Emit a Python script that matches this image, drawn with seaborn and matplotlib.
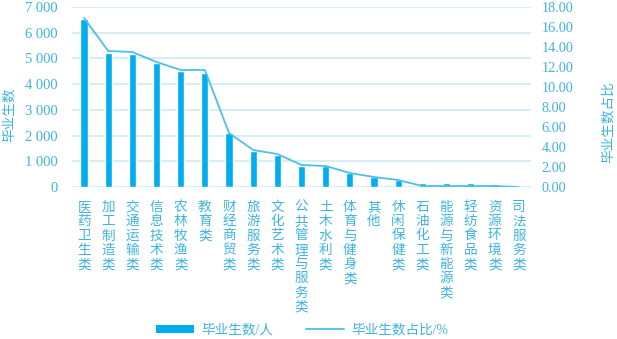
import matplotlib
matplotlib.use("Agg")
import matplotlib.pyplot as plt
import seaborn as sns
import numpy as np
import pandas as pd
from matplotlib.patches import Patch
from matplotlib.lines import Line2D
from matplotlib.ticker import FuncFormatter

# Graduates by programme category
categories = [
    "医药卫生类", "加工制造类", "交通运输类", "信息技术类", "农林牧渔类",
    "教育类", "财经商贸类", "旅游服务类", "文化艺术类", "公共管理与服务类",
    "土木水利类", "体育与健身类", "其他", "休闲保健类", "石油化工类",
    "能源与新能源类", "轻纺食品类", "资源环境类", "司法服务类",
]
graduates = [6520, 5220, 5170, 4830, 4510, 4450, 2090, 1410, 1240, 830,
             810, 550, 390, 270, 150, 150, 150, 120, 10]
share_pct = [16.9, 13.6, 13.5, 12.5, 11.7, 11.7, 5.4, 3.7, 3.3, 2.2,
             2.1, 1.4, 1.0, 0.7, 0.1, 0.1, 0.1, 0.1, 0.0]
left_ticks = [0, 1000, 2000, 3000, 4000, 5000, 6000, 7000]
right_ticks = [0, 2, 4, 6, 8, 10, 12, 14, 16, 18]

bar_color = "#00aeef"
line_color = "#4cc0ea"
text_color = "#3fb4de"
grid_color = "#cde9f5"

sns.set_theme(style="white")
plt.rcParams["font.family"] = ["Liberation Serif", "Noto Sans CJK SC"]

df = pd.DataFrame({"类别": categories, "毕业生数": graduates})

fig = plt.figure(figsize=(6.17, 3.39), dpi=100)
W, H = 617, 339
ax = fig.add_axes([72 / W, 1 - 187 / H, 459 / W, 180 / H])

sns.barplot(data=df, x="类别", y="毕业生数", color=bar_color, saturation=1,
            width=0.3, ax=ax)
ax.set_xlim(-0.5, len(categories) - 0.5)
ax.set_ylim(0, 7000)
ax.set_yticks(left_ticks)
ax.yaxis.set_major_formatter(
    FuncFormatter(lambda v, _: f"{int(v):,}".replace(",", " ")))
ax.yaxis.grid(True, color=grid_color, linewidth=1.1)
ax.xaxis.grid(False)
ax.set_axisbelow(True)
for s in ax.spines.values():
    s.set_visible(False)

ax.set_xticks(range(len(categories)))
ax.set_xticklabels(["\n".join(c) for c in categories], fontsize=9.8,
                   color=text_color, linespacing=1.13, va="top")
ax.tick_params(axis="x", length=0, pad=10)
ax.tick_params(axis="y", length=0, pad=10, labelsize=10.5, labelcolor=text_color)
ax.set_xlabel("")
ax.set_ylabel("毕业生数", fontsize=9.8, color=text_color, rotation=90,
              va="center", ha="center", rotation_mode="anchor")
ax.yaxis.set_label_coords(-0.137, 0.40)

ax2 = ax.twinx()
sns.lineplot(x=np.arange(len(categories)), y=share_pct, ax=ax2,
             color=line_color, linewidth=1.3)
ax2.set_ylim(0, 18)
ax2.set_yticks(right_ticks)
ax2.yaxis.set_major_formatter(FuncFormatter(lambda v, _: f"{v:.2f}"))
ax2.tick_params(axis="y", length=0, pad=7.7, labelsize=10.3, labelcolor=text_color)
ax2.grid(False)
for s in ax2.spines.values():
    s.set_visible(False)
ax2.set_ylabel("毕业生数占比", fontsize=9.8, color=text_color, rotation=90,
               va="center", ha="center", rotation_mode="anchor")
ax2.yaxis.set_label_coords(1.168, 0.36)

handles = [
    Patch(facecolor=bar_color, edgecolor="none", label="毕业生数/人"),
    Line2D([0], [0], color=line_color, linewidth=1.3, label="毕业生数占比/%"),
]
leg = fig.legend(handles=handles, loc="center", bbox_to_anchor=(302 / W, 1 - 330 / H),
                 ncol=2, frameon=False, fontsize=9.8, handlelength=2.8,
                 handleheight=0.55, columnspacing=2.4, handletextpad=0.5)
for t in leg.get_texts():
    t.set_color(text_color)

fig.savefig("out.png", dpi=100)
